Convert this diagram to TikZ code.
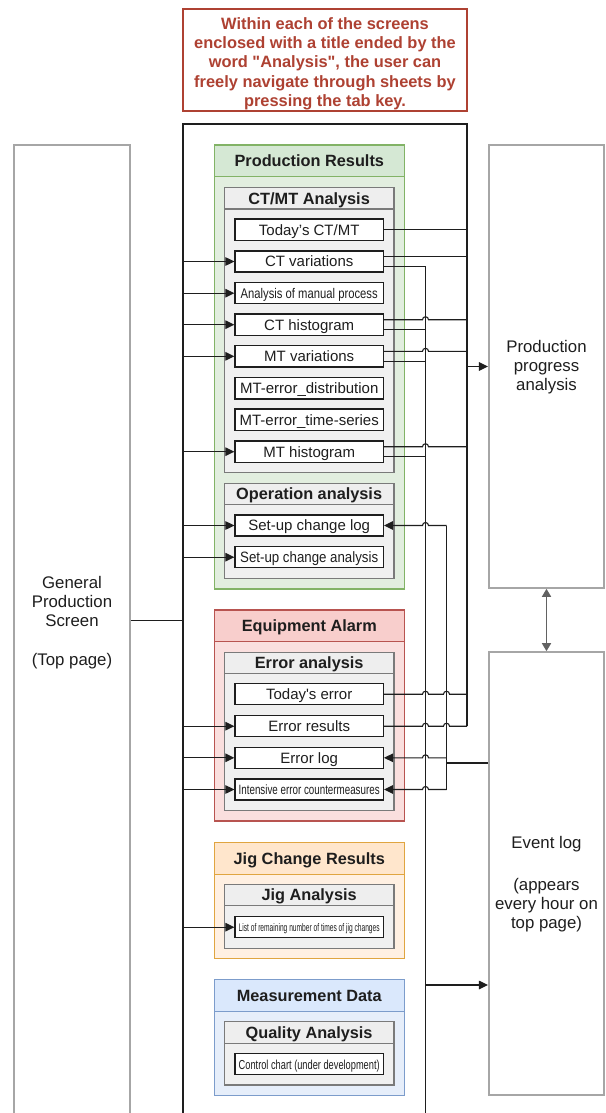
\documentclass[tikz,border=0pt]{standalone}
\usepackage{fontspec}
\setmainfont{Liberation Sans}
\usepackage{graphicx}
\usetikzlibrary{arrows.meta}

\definecolor{noteC}{HTML}{AE4132}
\definecolor{grnH}{HTML}{D5E8D4}
\definecolor{grnB}{HTML}{E2EEDF}
\definecolor{grnD}{HTML}{82B366}
\definecolor{redH}{HTML}{F8CECC}
\definecolor{redB}{HTML}{FADFDE}
\definecolor{redD}{HTML}{B85450}
\definecolor{ornH}{HTML}{FFE6CC}
\definecolor{ornB}{HTML}{FFF0E2}
\definecolor{ornD}{HTML}{E0A540}
\definecolor{bluH}{HTML}{DAE8FC}
\definecolor{bluB}{HTML}{E6EEFA}
\definecolor{bluD}{HTML}{7C9CCB}
\definecolor{gryH}{HTML}{EEEEEE}
\definecolor{gryB}{HTML}{F0F0F0}
\definecolor{gryD}{HTML}{7A7A7A}
\definecolor{boxD}{HTML}{A6A6A6}
\definecolor{ink}{HTML}{1E1E1E}

\newcommand\squeeze[2]{\resizebox{#1}{\height}{#2}}
\newcommand\fs[2]{\fontsize{#1}{#2}\selectfont}

% titled container: name, x1, y1, x2, y2, header bottom y, title, colour prefix, title size
\newcommand\mkpanel[9]{%
  \fill[#8B] (#2,#3) rectangle (#4,#5);
  \fill[#8H] (#2,#3) rectangle (#4,#6);
  \draw[#8D, line width=1.2pt] (#2,#3) rectangle (#4,#5) (#2,#6) -- (#4,#6);
  \node[font=\bfseries\fs{#9}{#9}, text=ink, text height=11.7pt, text depth=0pt]
    (#1) at ({(#2+#4)/2},{(#3+#6)/2}) {#7};
}

\tikzset{
  item/.style={draw=ink, line width=1.3pt, fill=white, minimum width=148.3pt,
    minimum height=21.2pt, inner sep=0pt, font=\fs{15}{18}, text=ink,
    text height=10.8pt, text depth=0pt},
  conn/.style={draw=ink, line width=1.1pt},
  arr/.style={conn, -{Triangle[length=9pt,width=8.5pt]}},
  outbox/.style={draw=boxD, line width=1.6pt, fill=white, inner sep=0pt},
  outtext/.style={font=\fs{16.8}{19.2}, align=center, text=ink},
}

\begin{document}
\begin{tikzpicture}[x=1pt,y=-1pt]
\useasboundingbox (0,0) rectangle (605,1113);
\fill[white] (0,0) rectangle (605,1113);

% note
\node[draw=noteC, line width=1.6pt, minimum width=284pt, minimum height=102pt,
  inner sep=0pt] (note) at (325,60) {};
\node[text=noteC, font=\bfseries\fs{16.4}{19.3}, align=center] (noteT) at (325,63.5)
  {Within each of the screens\\enclosed with a title ended by the\\word \textquotedbl Analysis\textquotedbl, the user can\\freely navigate through sheets by\\pressing the tab key.};

% side screens
\node[outbox, minimum width=116pt, minimum height=985pt] (gps) at (72,637.5) {};
\node[outtext] (gpsT) at (72,622.5) {General\\Production\\Screen\\[19pt](Top page)};
\node[outbox, minimum width=115.5pt, minimum height=443pt] (ppa) at (546.5,366.5) {};
\node[outtext] (ppaT) at (546.5,367) {Production\\progress\\analysis};
\node[outbox, minimum width=115.5pt, minimum height=443pt] (ev) at (546.5,873.5) {};
\node[outtext] (evT) at (546.5,884) {Event log\\[23pt](appears\\every hour on\\top page)};
\draw[draw=gryD!80!black, line width=1.6pt,
  {Triangle[length=8pt,width=9pt]}-{Triangle[length=8pt,width=9pt]}] (ppa.south) -- (ev.north);

% containers
\mkpanel{prT}{214.3}{145}{404.3}{589}{176.7}{Production Results}{grn}{16.3}
\mkpanel{ctT}{224.3}{187.7}{394}{472.7}{209}{CT/MT Analysis}{gry}{16.3}
\mkpanel{opT}{224.3}{483.3}{394}{578.3}{504.3}{Operation analysis}{gry}{16.3}
\mkpanel{eqT}{214.3}{610}{404.3}{821}{641.7}{Equipment Alarm}{red}{16.3}
\mkpanel{eaT}{224.3}{652.3}{394}{810.7}{673.3}{Error analysis}{gry}{16.3}
\mkpanel{jgT}{214.3}{842.3}{404.3}{958.3}{874.3}{Jig Change Results}{orn}{16.3}
\mkpanel{jaT}{224.3}{884.3}{394}{948.3}{905.7}{Jig Analysis}{gry}{16.3}
\mkpanel{mdT}{214.3}{979.3}{404.3}{1095.7}{1011.7}{Measurement Data}{blu}{16.3}
\mkpanel{qaT}{224.3}{1021.7}{394}{1085}{1043.3}{Quality Analysis}{gry}{16.3}

% sheets
\node[item] (tCT) at (309.2,229.7) {Today’s CT/MT};
\node[item] (ctV) at (309.2,261.5) {CT variations};
\node[item] (amp) at (309.2,293.2) {\squeeze{137pt}{\fs{14}{16}Analysis of manual process}};
\node[item] (ctH) at (309.2,324.7) {CT histogram};
\node[item] (mtV) at (309.2,356.3) {MT variations};
\node[item] (mtD) at (309.2,388.3) {MT-error\_distribution};
\node[item] (mtT) at (309.2,419.7) {MT-error\_time-series};
\node[item] (mtH) at (309.2,451.7) {MT histogram};
\node[item] (suL) at (309.2,525.5) {Set-up change log};
\node[item] (suA) at (309.2,557.2) {\squeeze{138pt}{Set-up change analysis}};
\node[item] (tEr) at (309.2,694.2) {Today\textquotesingle s error};
\node[item] (erR) at (309.2,726.2) {Error results};
\node[item] (erL) at (309.2,757.8) {Error log};
\node[item, text height=10pt] (ies) at (309.2,789.5) {\squeeze{141pt}{\fs{13.5}{16}Intensive error countermeasures}};
\node[item, text height=8.5pt] (jig) at (309.2,927.2) {\squeeze{141pt}{\fs{11}{13}List of remaining number of times of jig changes}};
\node[item, text height=9.6pt] (ctl) at (309.2,1064.2) {\squeeze{141pt}{\fs{13}{15}Control chart (under development)}};

% bus points
\coordinate (lb) at (183,124);
\coordinate (rb) at (467,124);
\coordinate (eb) at (425.5,266.5);
\coordinate (ebEnd) at (425.5,1114);
\coordinate (sb) at (446.5,525.5);
\coordinate (evJ) at (446.5,763);
\coordinate (evA) at (425.5,985);

% frame of the analysis screens
\draw[conn, line width=1.3pt] (183,1114) -- (lb) -- (rb) -- (rb |- erR.east);

% links from the general screen
\draw[conn] (gps.east |- 0,620.7) -- (lb |- 0,620.7);
\foreach \nm in {ctV,amp,ctH,mtV,mtH,suL,suA,erR,erL,ies,jig}
  \draw[arr] (\nm.west -| lb) -- (\nm.west);

% links to production progress analysis
\draw[conn] (tCT.east) -- (tCT.east -| rb);
\draw[conn] ([yshift=5pt]ctV.east) -- ([yshift=5pt]ctV.east -| rb);
\draw[conn] ([yshift=5pt]ctH.east) -- (422.5,319.7) arc[start angle=180,end angle=0,radius=3pt] -- ([yshift=5pt]ctH.east -| rb);
\draw[conn] ([yshift=5pt]mtV.east) -- (422.5,351.3) arc[start angle=180,end angle=0,radius=3pt] -- ([yshift=5pt]mtV.east -| rb);
\draw[conn] ([yshift=5pt]mtH.east) -- (422.5,446.7) arc[start angle=180,end angle=0,radius=3pt] -- ([yshift=5pt]mtH.east -| rb);
\draw[conn] (tEr.east) -- (422.5,694.2) arc[start angle=180,end angle=0,radius=3pt]
  -- (443.5,694.2) arc[start angle=180,end angle=0,radius=3pt] -- (tEr.east -| rb);
\draw[conn] (erR.east) -- (422.5,726.2) arc[start angle=180,end angle=0,radius=3pt]
  -- (443.5,726.2) arc[start angle=180,end angle=0,radius=3pt] -- (erR.east -| rb);
\draw[arr] (ppa.west -| rb) -- (ppa.west);

% links to the event log
\draw[conn] ([yshift=-5pt]ctV.east) -- (eb) -- (ebEnd);
\draw[conn] ([yshift=-5pt]ctH.east) -- ([yshift=-5pt]ctH.east -| eb);
\draw[conn] ([yshift=-5pt]mtV.east) -- ([yshift=-5pt]mtV.east -| eb);
\draw[conn] ([yshift=-5pt]mtH.east) -- ([yshift=-5pt]mtH.east -| eb);
\draw[arr] (evA) -- (evA -| ev.west);

% links from the event log
\draw[conn] (ev.west |- evJ) -- (evJ);
\draw[conn] (sb) -- (sb |- ies.east);
\draw[arr] (sb) -- (428.5,525.5) arc[start angle=0,end angle=180,radius=3pt] -- (suL.east);
\draw[arr] (sb |- erL.east) -- (428.5,757.8) arc[start angle=0,end angle=180,radius=3pt] -- (erL.east);
\draw[arr] (sb |- ies.east) -- (428.5,789.5) arc[start angle=0,end angle=180,radius=3pt] -- (ies.east);
\end{tikzpicture}
\end{document}
